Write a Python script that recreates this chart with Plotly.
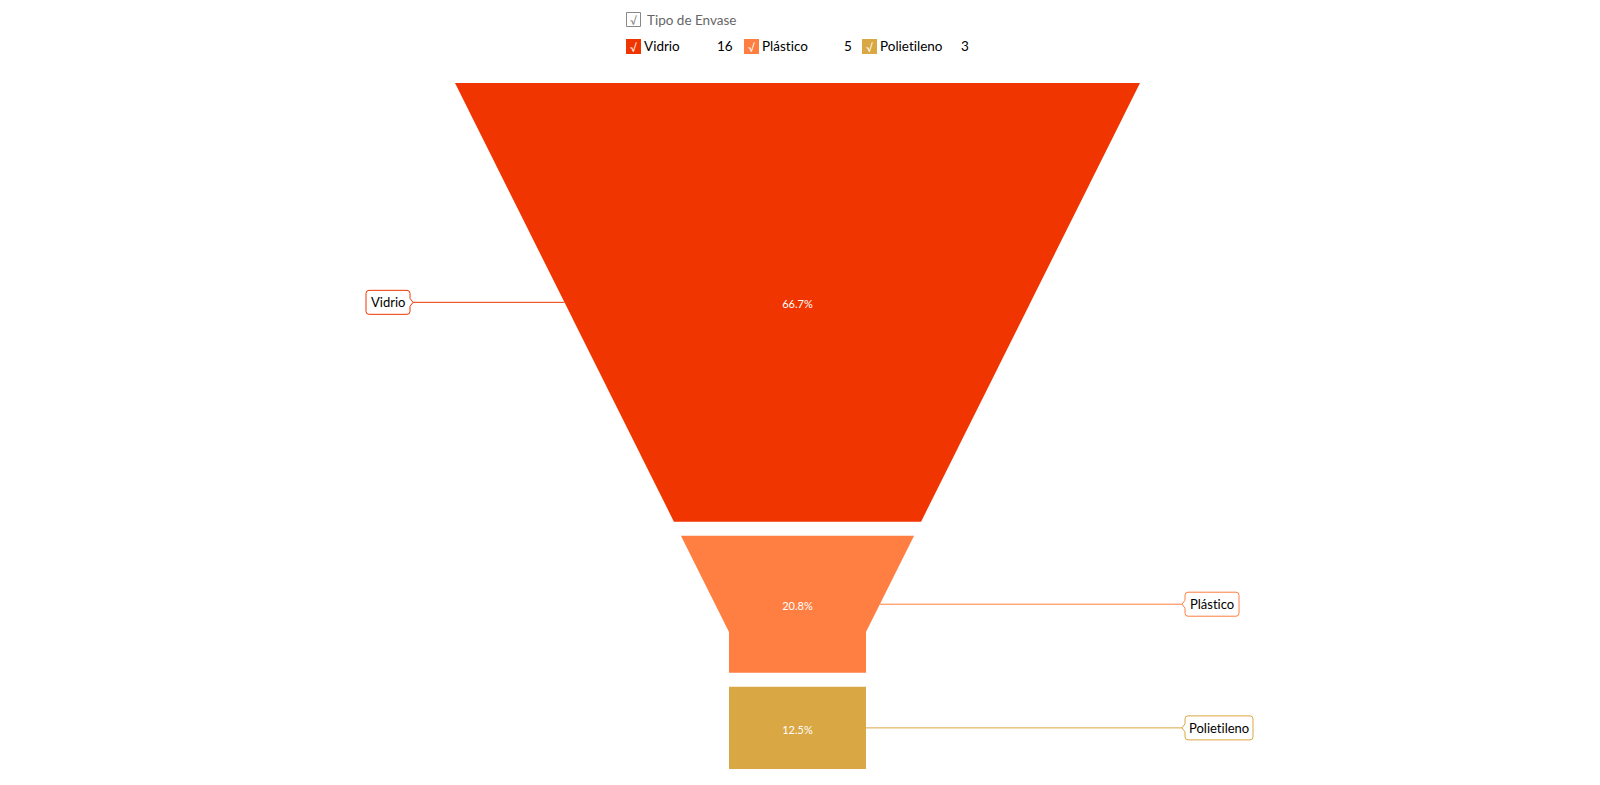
import plotly.graph_objects as go

# ---------------- data ----------------
categories = ["Vidrio", "Plástico", "Polietileno"]
values = [16, 5, 3]
legend_title = "Tipo de Envase"

# ---------------- style ----------------
colors = ["#F03500", "#FF7F42", "#D9A743"]
FONT = "Lato"
W, H = 1600, 785
TOP, BOTTOM = 83, 769
GAP = 14
CX = 797.5
TOP_W = 685
NECK_W = 137
NECK_H = 137
label_side = ["left", "right", "right"]
label_box_w = [44, 54, 68]
LEFT_TIP = 413
RIGHT_TIP = 1182
PCT_DY = 3


def no_lig(s):
    # avoid the "ti"/"fi" ligatures of the installed Lato build
    return s.replace("ti", "t\u200ci")


total = sum(values)
avail = BOTTOM - TOP - GAP * (len(values) - 1)
neck_y = BOTTOM - NECK_H


def half_width(y):
    if y >= neck_y:
        return NECK_W / 2
    return TOP_W / 2 - (TOP_W / 2 - NECK_W / 2) * (y - TOP) / (neck_y - TOP)


fig = go.Figure()
shapes = []
annotations = []

y = TOP
for i, (cat, v, col) in enumerate(zip(categories, values, colors)):
    h = avail * v / total
    y0, y1 = y, y + h
    ys_right = [y0]
    if y0 < neck_y < y1:
        ys_right.append(neck_y)
    ys_right.append(y1)
    xs = [CX + half_width(yy) for yy in ys_right] + [CX - half_width(yy) for yy in reversed(ys_right)]
    ys = ys_right + list(reversed(ys_right))
    xs.append(xs[0])
    ys.append(ys[0])
    fig.add_trace(go.Scatter(x=xs, y=ys, fill="toself", fillcolor=col, mode="lines",
                             line=dict(width=0, color=col), hoverinfo="skip", showlegend=False))
    ym = (y0 + y1) / 2
    pct = f"{100 * v / total:.1f}%"
    fig.add_trace(go.Scatter(x=[CX], y=[ym + PCT_DY], mode="text", text=[pct],
                             textfont=dict(color="white", size=11, family=FONT),
                             hoverinfo="skip", showlegend=False))
    # connector + label box
    bw = label_box_w[i]
    r = 3
    if label_side[i] == "left":
        edge = CX - half_width(ym)
        tip = LEFT_TIP
        bx1 = tip - 3
        bx0 = bx1 - bw
        by0, by1 = ym - 12, ym + 12
        path = (f"M {bx0+r},{by0} L {bx1-r},{by0} Q {bx1},{by0} {bx1},{by0+r} "
                f"L {bx1},{ym-4} L {tip},{ym} L {bx1},{ym+4} "
                f"L {bx1},{by1-r} Q {bx1},{by1} {bx1-r},{by1} L {bx0+r},{by1} "
                f"Q {bx0},{by1} {bx0},{by1-r} L {bx0},{by0+r} Q {bx0},{by0} {bx0+r},{by0} Z")
    else:
        edge = CX + half_width(ym)
        tip = RIGHT_TIP
        bx0 = tip + 3
        bx1 = bx0 + bw
        by0, by1 = ym - 12, ym + 12
        path = (f"M {bx0+r},{by0} L {bx1-r},{by0} Q {bx1},{by0} {bx1},{by0+r} "
                f"L {bx1},{by1-r} Q {bx1},{by1} {bx1-r},{by1} L {bx0+r},{by1} "
                f"Q {bx0},{by1} {bx0},{by1-r} L {bx0},{ym+4} L {tip},{ym} L {bx0},{ym-4} "
                f"L {bx0},{by0+r} Q {bx0},{by0} {bx0+r},{by0} Z")
    fig.add_trace(go.Scatter(x=[edge, tip], y=[ym, ym], mode="lines",
                             line=dict(color=col, width=1), hoverinfo="skip", showlegend=False))
    shapes.append(dict(type="path", path=path, xref="x", yref="y",
                       line=dict(color=col, width=1), fillcolor="white", layer="above"))
    annotations.append(dict(x=(bx0 + bx1) / 2, y=ym, xref="x", yref="y", text=no_lig(cat),
                            showarrow=False, font=dict(size=13, color="#000000", family=FONT),
                            xanchor="center", yanchor="middle"))
    y = y1 + GAP

# ---------------- legend (manual) ----------------
shapes.append(dict(type="rect", x0=626.5, x1=640.5, y0=12.5, y1=26.5, xref="x", yref="y",
                   line=dict(color="#888888", width=1), fillcolor="white"))
annotations.append(dict(x=633.5, y=20, xref="x", yref="y", text="√", showarrow=False,
                        font=dict(size=11, color="#777777", family=FONT), xanchor="center", yanchor="middle"))
annotations.append(dict(x=645, y=19.5, xref="x", yref="y", text=legend_title, showarrow=False,
                        font=dict(size=13.5, color="#666666", family=FONT), xanchor="left", yanchor="middle"))

leg_sq_x = [626, 744, 862]
leg_val_right = [735, 854, 971]
for i, (cat, v, col) in enumerate(zip(categories, values, colors)):
    sx = leg_sq_x[i]
    shapes.append(dict(type="rect", x0=sx, x1=sx + 15, y0=39, y1=54, xref="x", yref="y",
                       line=dict(width=0), fillcolor=col))
    annotations.append(dict(x=sx + 7.5, y=47, xref="x", yref="y", text="√", showarrow=False,
                            font=dict(size=11, color="white", family=FONT), xanchor="center", yanchor="middle"))
    annotations.append(dict(x=sx + 16, y=46, xref="x", yref="y", text=no_lig(cat), showarrow=False,
                            font=dict(size=13.5, color="#000000", family=FONT), xanchor="left", yanchor="middle"))
    annotations.append(dict(x=leg_val_right[i], y=46, xref="x", yref="y", text=str(v), showarrow=False,
                            font=dict(size=13.5, color="#000000", family=FONT), xanchor="right", yanchor="middle"))

fig.update_layout(
    width=W, height=H, autosize=False,
    margin=dict(l=0, r=0, t=0, b=0),
    paper_bgcolor="white", plot_bgcolor="white",
    xaxis=dict(range=[0, W], visible=False, fixedrange=True),
    yaxis=dict(range=[H, 0], visible=False, fixedrange=True),
    shapes=shapes, annotations=annotations,
    showlegend=False,
    font=dict(family=FONT),
)

fig.write_html("out.html", config={"displayModeBar": False})
